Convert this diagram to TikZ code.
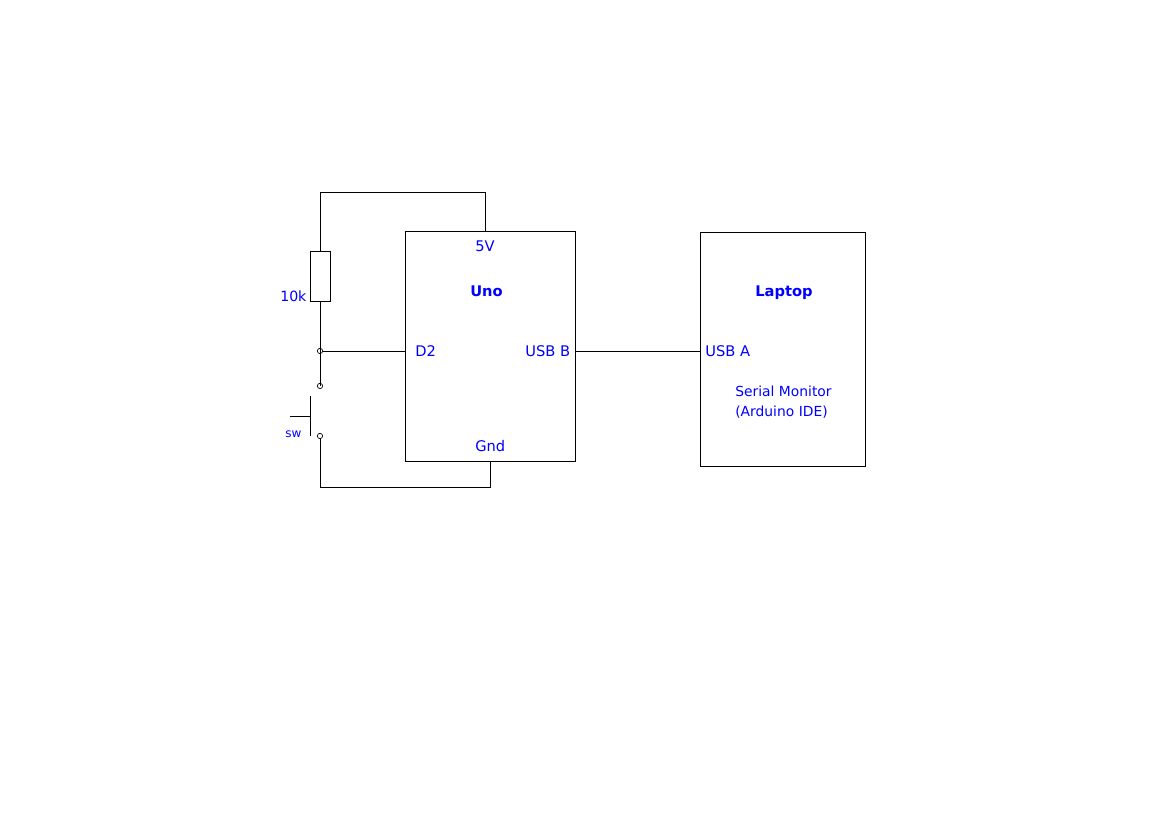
\documentclass[tikz,border=0pt]{standalone}
\usepackage{fontspec}
\setmainfont{DejaVu Sans}
\usetikzlibrary{positioning}
\tikzstyle{block} = [rectangle, draw=black, line width=0.6pt, inner sep=0pt]
\tikzstyle{label} = [text=blue, inner sep=0pt, anchor=base west, font=\fontsize{11}{13}\selectfont]
\tikzstyle{heading} = [label, font=\fontsize{11}{13}\selectfont\bfseries]
\tikzstyle{terminal} = [circle, draw=black, line width=0.5pt, inner sep=0pt, minimum size=4pt]
\tikzstyle{wire} = [line width=0.6pt, black]

\begin{document}
\begin{tikzpicture}[x=0.75pt, y=-0.75pt]
\useasboundingbox (0,0.05) rectangle (1169,827.05);

% Boxes
\node (uno) [block, minimum width=127.5pt, minimum height=172pt] at (490,346.5) {};
\node (laptop) [block, minimum width=123.75pt, minimum height=175.5pt] at (782.5,349) {};
\node (resistor) [block, minimum width=15pt, minimum height=37pt] at (320,276.5) {};

% Terminals
\node (junction) [terminal] at (320,351) {};
\node (swtop) [terminal] at (320,386) {};
\node (swbottom) [terminal] at (320,436) {};

% Free ends
\coordinate (topleft) at (320,192);
\coordinate (pinfive) at (485,232);
\coordinate (botleft) at (320,487);
\coordinate (pingnd) at (490,461);
\coordinate (pindtwo) at (405,351);
\coordinate (usbb) at (575,351);
\coordinate (usba) at (700,351);
\coordinate (bartop) at (310,396);
\coordinate (barbottom) at (310,436);
\coordinate (barmid) at (310,416);
\coordinate (plunger) at (290,416);

% Labels
\node (fivev) [label] at (475,251.4) {5V};
\node (unoname) [heading] at (470,296.4) {Uno};
\node (dtwo) [label] at (415,356.4) {D2};
\node (usbbname) [label] at (525,356.4) {USB B};
\node (gnd) [label] at (475,451.4) {Gnd};
\node (laptopname) [heading] at (755,296.4) {Laptop};
\node (usbaname) [label] at (705,356.4) {USB A};
\node (serial) [label, font=\fontsize{10.4}{12}\selectfont] at (735,396.4) {Serial Monitor};
\node (arduino) [label, font=\fontsize{10.4}{12}\selectfont] at (735,416.4) {(Arduino IDE)};
\node (tenk) [label, font=\fontsize{10.6}{13}\selectfont] at (280,301.4) {10k};
\node (swname) [label, font=\fontsize{9}{11}\selectfont] at (285,437.4) {sw};

% Wires
\draw [wire] (resistor.north) -- (topleft) -- (topleft -| pinfive) -- (pinfive);
\draw [wire] (resistor.south) -- (swtop.center);
\draw [wire] (junction) -- (pindtwo);
\draw [wire] (usbb) -- (usba);
\draw [wire] (swbottom) -- (botleft) -- (botleft -| pingnd) -- (pingnd);
\draw [wire] (bartop) -- (barbottom);
\draw [wire] (plunger) -- (barmid);

\end{tikzpicture}
\end{document}
